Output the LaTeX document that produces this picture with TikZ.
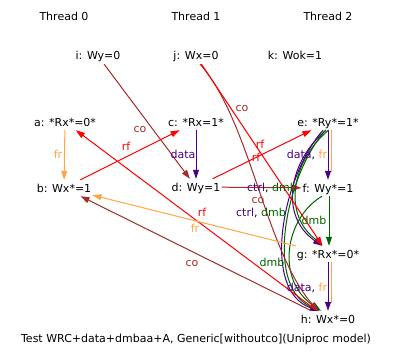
\documentclass[tikz,border=0pt]{standalone}
\usepackage{fontspec}
\setmainfont{DejaVu Sans}
\usetikzlibrary{arrows.meta}
\definecolor{frC}{RGB}{255,165,70}
\definecolor{rfC}{RGB}{255,0,0}
\definecolor{coC}{RGB}{165,42,42}
\definecolor{dataC}{RGB}{75,0,130}
\definecolor{dmbC}{RGB}{0,100,0}
\begin{document}
\begin{tikzpicture}[x=1pt,y=-1pt,
  every node/.style={font=\fontsize{11}{13}\selectfont, inner sep=0pt, text height=8pt, text depth=0pt},
  ev/.style={minimum height=16pt, inner xsep=1pt},
  edge/.style={line width=1pt, -{Triangle[length=9pt,width=6pt]}},
  plain/.style={line width=1pt, shorten >=8pt},
  fr/.style={edge,frC}, rf/.style={edge,rfC}, co/.style={edge,coC},
  dat/.style={edge,dataC}, dmb/.style={edge,dmbC}]
\useasboundingbox (0,0) rectangle (394,361);
% thread titles
\node (t0) at (64,17) {Thread 0};
\node (t1) at (196,17) {Thread 1};
\node (t2) at (328,17) {Thread 2};
% events
\node[ev] (i) at (98,56) {i: Wy=0};
\node[ev] (j) at (196,56) {j: Wx=0};
\node[ev] (k) at (295,56) {k: Wok=1};
\node[ev] (a) at (65,122) {a: *Rx*=0*};
\node[ev] (c) at (196,122) {c: *Rx=1*};
\node[ev] (e) at (328,122) {e: *Ry*=1*};
\node[ev] (b) at (64,188) {b: Wx*=1};
\node[ev] (d) at (196,187) {d: Wy=1};
\node[ev] (f) at (328,188) {f: Wy*=1};
\node[ev] (g) at (328,254) {g: *Rx*=0*};
\node[ev] (h) at (328,319) {h: Wx*=0};
\node (cap) at (196,338) {Test WRC+data+dmbaa+A, Generic[withoutco](Uniproc model)};
% program order edges
\draw[fr] (a) -- (b);
\draw[dat] (c) -- (d);
\draw[dat] (e.south) -- (f.north);
\draw[plain,frC] ([xshift=3pt]e.south) -- ([xshift=3pt]f.north);
\draw[dmb] ([xshift=1pt]f.south) -- ([xshift=1pt]g.north);
\draw[dat] (g.south) -- (h.north);
\draw[plain,frC] ([xshift=3pt]g.south) -- ([xshift=3pt]h.north);
% e -> g  ctrl, dmb
\draw[dat] ([xshift=-2pt]e.south) .. controls (290,160) and (278,215) .. ([xshift=-6pt]g.north);
\draw[plain,dmbC] ([xshift=0.5pt]e.south) .. controls (292.5,160) and (280.5,215) .. ([xshift=-3.5pt]g.north);
% e -> h  ctrl, dmb
\draw[dat] ([xshift=-5pt]e.south) .. controls (283,175) and (260,290) .. ([xshift=-9pt]h.north);
\draw[plain,dmbC] ([xshift=-2.5pt]e.south) .. controls (285.5,175) and (262.5,290) .. ([xshift=-6.5pt]h.north);
% f -> h dmb
\draw[dmb] ([xshift=-6pt]f.south) .. controls (285,218) and (275,280) .. ([xshift=-7pt]h.north);
% co
\draw[co] (i) -- (d);
\draw[co] (d) -- (f);
\draw[co] ([xshift=4pt]j.south) .. controls (250,120) and (265,250) .. ([xshift=-10pt]h.north);
\draw[co] (h) -- (b);
% rf
\draw[rf] (b) -- (c);
\draw[rf] (d) -- (e);
\draw[rf] (j) -- (g);
\draw[rf] (h) -- (a);
% fr
\draw[fr] (g) -- (b);
% labels
\node[text=frC] (l1) at (58,154) {fr};
\node[text=dataC] (l2) at (183,154) {data};
\node[text=coC] (l3) at (140,128) {co};
\node[text=rfC] (l4) at (126,146) {rf};
\node[text=coC] (l5) at (242,107) {co};
\node[text=rfC] (l6) at (260,145) {rf};
\node[text=rfC] (l7) at (256,157) {rf};
\node (l8) at (307,154) {\textcolor{dataC}{data}, \textcolor{frC}{fr}};
\node (l9) at (272,187) {\textcolor{dataC}{ctrl}, \textcolor{dmbC}{dmb}};
\node[text=coC] (l10) at (258,199) {co};
\node (l11) at (261,212) {\textcolor{dataC}{ctrl}, \textcolor{dmbC}{dmb}};
\node[text=dmbC] (l12) at (314,220) {dmb};
\node[text=dmbC] (l13) at (272,262) {dmb};
\node (l14) at (307,287) {\textcolor{dataC}{data}, \textcolor{frC}{fr}};
\node[text=rfC] (l15) at (202,212) {rf};
\node[text=frC] (l16) at (195,228) {fr};
\node[text=coC] (l17) at (192,262) {co};
\end{tikzpicture}
\end{document}
